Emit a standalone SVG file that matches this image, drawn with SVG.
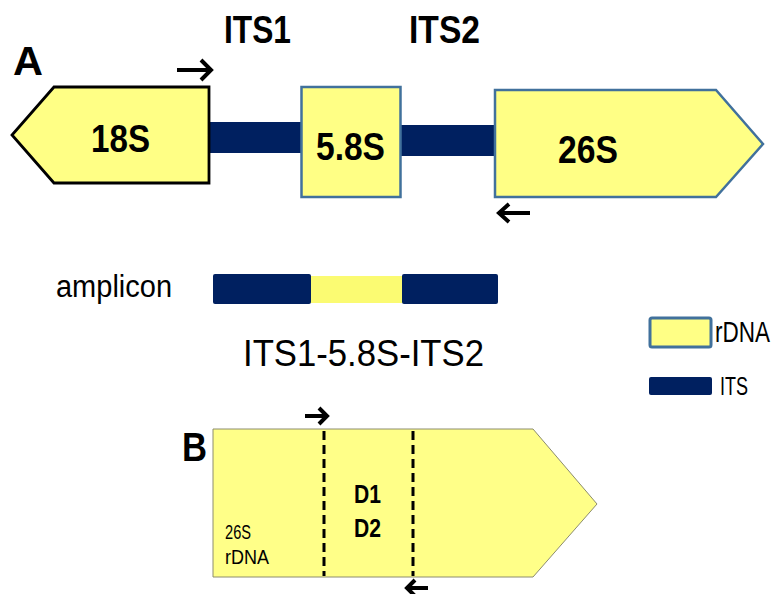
<svg xmlns="http://www.w3.org/2000/svg" width="777" height="594" viewBox="0 0 777 594">
  <style>
    .lbl { font-family: "Liberation Sans", Arial, sans-serif; fill: #000; }
    .b { font-weight: bold; }
    .rdna { fill: #FFFF85; stroke: #41719C; stroke-width: 2.5; stroke-linejoin: miter; }
    .its { fill: #002060; }
    .primer { fill: none; stroke: #000; stroke-width: 4; stroke-linecap: butt; stroke-linejoin: miter; }
    .dash { stroke: #000; stroke-width: 3; stroke-dasharray: 9 5; }
  </style>

  <!-- Panel A: rDNA operon -->
  <text class="lbl b" x="13" y="75" font-size="40" textLength="30" lengthAdjust="spacingAndGlyphs">A</text>
  <text class="lbl b" x="224" y="43" font-size="38" textLength="67" lengthAdjust="spacingAndGlyphs">ITS1</text>
  <text class="lbl b" x="409" y="43" font-size="38" textLength="71" lengthAdjust="spacingAndGlyphs">ITS2</text>

  <g id="its1">
    <rect class="its" x="209" y="122" width="94" height="31"/>
  </g>
  <g id="its2">
    <rect class="its" x="400" y="125" width="96" height="31"/>
  </g>

  <g id="gene-18S">
    <polygon points="209,87 209,183 54,183 12,135 54,87" fill="#FFFF85" stroke="#000" stroke-width="2.8"/>
    <text class="lbl b" x="91" y="152" font-size="39" textLength="59" lengthAdjust="spacingAndGlyphs">18S</text>
  </g>

  <g id="gene-5.8S">
    <rect class="rdna" x="301.5" y="87" width="99" height="110"/>
    <text class="lbl b" x="316" y="160" font-size="39" textLength="69" lengthAdjust="spacingAndGlyphs">5.8S</text>
  </g>

  <g id="gene-26S">
    <polygon class="rdna" points="495,90 716,90 763,144 716,197 495,197"/>
    <text class="lbl b" x="558" y="163" font-size="39" textLength="60" lengthAdjust="spacingAndGlyphs">26S</text>
  </g>

  <!-- Amplicon -->
  <g id="amplicon">
    <text class="lbl" x="56" y="297" font-size="31" textLength="116" lengthAdjust="spacingAndGlyphs">amplicon</text>
    <rect x="310" y="276" width="93" height="27" fill="#FBFB72"/>
    <rect class="its" x="213" y="274" width="98" height="30" rx="2"/>
    <rect class="its" x="402" y="274" width="96" height="30" rx="2"/>
    <text class="lbl" x="243" y="366" font-size="36" textLength="241" lengthAdjust="spacingAndGlyphs">ITS1-5.8S-ITS2</text>
  </g>

  <!-- Legend -->
  <g id="legend">
    <rect x="650" y="318" width="61" height="29" fill="#FFFF85" stroke="#41719C" stroke-width="3" rx="2"/>
    <text class="lbl" transform="translate(715,342) scale(0.9,1.2)" font-size="25">rDNA</text>
    <rect class="its" x="649" y="377" width="63" height="18" rx="2"/>
    <text class="lbl" x="720" y="395" font-size="25" textLength="28" lengthAdjust="spacingAndGlyphs">ITS</text>
  </g>

  <!-- Panel B: 26S D1/D2 region -->
  <text class="lbl b" x="182" y="461" font-size="41" textLength="25" lengthAdjust="spacingAndGlyphs">B</text>
  <g id="gene-26S-D1D2">
    <polygon points="213,429 533,429 597,504 533,577 213,577" fill="#FFFF88" stroke="#8C8C6E" stroke-width="1"/>
    <line class="dash" x1="324" y1="431" x2="324" y2="576"/>
    <line class="dash" x1="413" y1="431" x2="413" y2="576"/>
    <text class="lbl b" x="354" y="503" font-size="25" textLength="27" lengthAdjust="spacingAndGlyphs">D1</text>
    <text class="lbl b" x="354" y="537" font-size="25" textLength="27" lengthAdjust="spacingAndGlyphs">D2</text>
    <text class="lbl" x="225" y="539" font-size="20" textLength="26" lengthAdjust="spacingAndGlyphs">26S</text>
    <text class="lbl" x="225" y="564" font-size="20" textLength="44" lengthAdjust="spacingAndGlyphs">rDNA</text>
  </g>

  <!-- Primer arrows -->
  <g id="connectors">
    <path class="primer" d="M177,70 H210 M201,60 L211,70 L201,80"/>
    <path class="primer" d="M530,213 H500 M509,204 L499,213 L509,222"/>
    <path class="primer" d="M305,416 H326 M319,408 L327,416 L319,424" stroke-width="3.5"/>
    <path class="primer" d="M428,588 H408 M415,580 L407,588 L415,596" stroke-width="3.5"/>
  </g>
</svg>
